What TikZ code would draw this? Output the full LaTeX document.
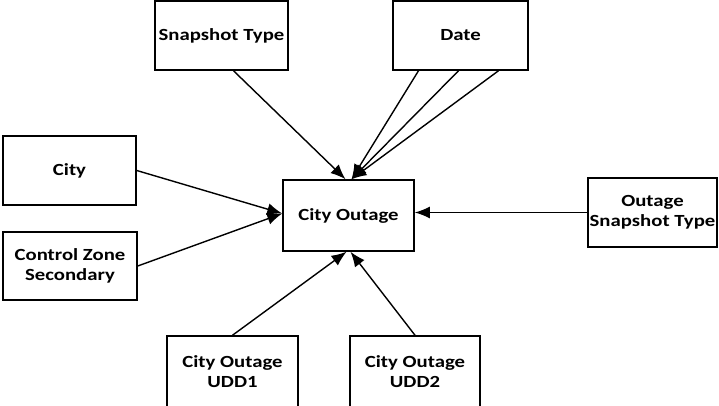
\documentclass[tikz,border=0pt]{standalone}
\usepackage{fontspec}
\setmainfont{Carlito}[FakeStretch=1.22]
\usetikzlibrary{arrows.meta,calc}
\begin{document}
\begin{tikzpicture}[x=1pt,y=-1pt,
  box/.style={draw,line width=1.5pt,fill=white,inner sep=0pt,align=center,
    font=\fontsize{17}{20.5}\selectfont\bfseries},
  conn/.style={line width=1.4pt,-{Latex[length=15pt,width=12pt]}}]
\useasboundingbox (0,0) rectangle (719,406);
\node[box,minimum width=133pt,minimum height=69pt] (snap) at (221.5,35.5) {Snapshot Type};
\node[box,minimum width=135pt,minimum height=69pt] (date) at (460.5,35.5) {Date};
\node[box,minimum width=133pt,minimum height=69pt] (city) at (69.5,170.5) {City};
\node[box,minimum width=134pt,minimum height=68pt] (cz) at (70,266) {Control Zone\\Secondary};
\node[box,minimum width=131pt,minimum height=71pt] (co) at (348.5,215.5) {City Outage};
\node[box,minimum width=129pt,minimum height=69pt] (oss) at (652.5,212.5) {Outage\\Snapshot Type};
\node[box,minimum width=131pt,minimum height=71pt] (u1) at (232.5,371.5) {City Outage\\UDD1};
\node[box,minimum width=130pt,minimum height=71pt] (u2) at (415,371.5) {City Outage\\UDD2};
\draw[conn] ($(snap.south)+(12,0)$) -- ($(co.north)+(-3,0)$);
\draw[conn] ($(date.south)+(-42,0)$) -- ($(co.north)+(3,0)$);
\draw[conn] ($(date.south)+(-2,0)$) -- ($(co.north)+(3,0)$);
\draw[conn] ($(date.south)+(38,0)$) -- ($(co.north)+(3,0)$);
\draw[conn] (city.east) -- ($(co.west)+(0,-2)$);
\draw[conn] (cz.east) -- ($(co.west)+(0,-2)$);
\draw[conn] (oss.west) -- (oss.west -| co.east);
\draw[conn] (u1.north) -- ($(co.south)+(-2,0)$);
\draw[conn] (u2.north) -- ($(co.south)+(2,0)$);
\end{tikzpicture}
\end{document}
